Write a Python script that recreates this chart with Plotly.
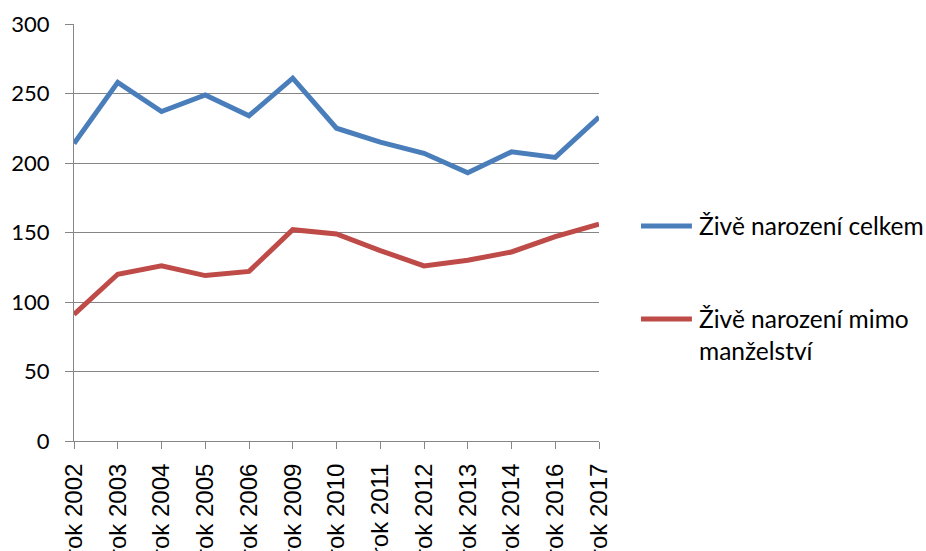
import plotly.graph_objects as go

categories = ["rok 2002", "rok 2003", "rok 2004", "rok 2005", "rok 2006", "rok 2009",
              "rok 2010", "rok 2011", "rok 2012", "rok 2013", "rok 2014", "rok 2016", "rok 2017"]
celkem = [214, 258, 237, 249, 234, 261, 225, 215, 207, 193, 208, 204, 233]
mimo = [91, 120, 126, 119, 122, 152, 149, 137, 126, 130, 136, 147, 156]

name_celkem = "Živě narození celkem"
name_mimo = "Živě narození mimo<br>manželství"
color_celkem = "#4A7EBB"
color_mimo = "#BE4B48"

fig = go.Figure()
fig.add_trace(go.Scatter(x=categories, y=celkem, mode="lines", name=name_celkem,
                         line=dict(color=color_celkem, width=5), showlegend=False))
fig.add_trace(go.Scatter(x=categories, y=mimo, mode="lines", name=name_mimo,
                         line=dict(color=color_mimo, width=5), showlegend=False))

# legend drawn as keys + text (paper coordinates, outside plot area)
legend_font = dict(family="Lato, Open Sans, sans-serif", size=24.5, color="#000000")
legend_items = [(name_celkem, color_celkem, 0.5156), (name_mimo, color_mimo, 0.2926)]
for name, color, ypos in legend_items:
    fig.add_shape(type="line", xref="paper", yref="paper", x0=1.080, x1=1.177, y0=ypos, y1=ypos,
                  line=dict(color=color, width=5))
    fig.add_annotation(xref="paper", yref="paper", x=1.1867, y=ypos + 0.041, xanchor="left",
                       yanchor="top", align="left", showarrow=False, text=name, font=legend_font)

grid = "#868686"
fig.update_layout(
    width=926, height=551,
    margin=dict(l=74, r=327, t=24, b=110),
    paper_bgcolor="white", plot_bgcolor="white",
    showlegend=False,
    xaxis=dict(type="category", range=[0, 12], showgrid=False, automargin=False,
               showline=True, linecolor=grid, linewidth=1,
               ticks="outside", ticklen=7, tickcolor=grid, tickwidth=1,
               tickangle=-90, ticklabelstandoff=5,
               tickfont=dict(family="Liberation Sans, Arial, sans-serif", size=24, color="#000000")),
    yaxis=dict(range=[0, 300], dtick=50, showgrid=True, gridcolor=grid, gridwidth=1,
               showline=True, linecolor=grid, linewidth=1, zeroline=False, automargin=False,
               ticks="outside", ticklen=8, tickcolor=grid, tickwidth=1,
               ticklabelstandoff=11,
               tickfont=dict(family="Lato, Open Sans, sans-serif", size=22, color="#000000")),
)

fig.write_html("out.html", config={"displayModeBar": False},
               post_script="document.body.style.margin='0';document.body.style.overflow='hidden';")
